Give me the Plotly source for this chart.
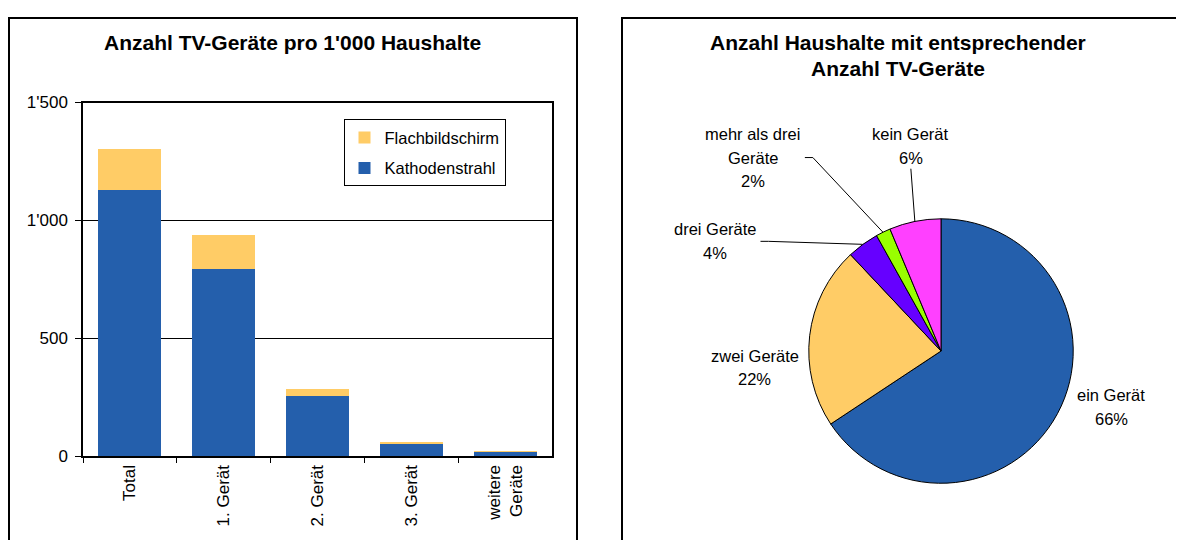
import math
import plotly.graph_objects as go

# ---------------- data ----------------
categories = ["Total", "1. Gerät", "2. Gerät", "3. Gerät", "weitere<br>Geräte"]
kathodenstrahl = [1130, 796, 257, 53, 21]
flachbildschirm = [172, 144, 30, 10, 1]
y_ticks = [0, 500, 1000, 1500]

pie_labels = ["ein Gerät", "zwei Geräte", "drei Geräte", "mehr als drei Geräte", "kein Gerät"]
pie_label_lines = [["ein Gerät"], ["zwei Geräte"], ["drei Geräte"], ["mehr als drei", "Geräte"], ["kein Gerät"]]
pie_values = [65.7, 22.3, 3.9, 1.8, 6.3]

# ---------------- style / layout ----------------
PAGE_W, PAGE_H = 1184, 548
BODY = 8  # default page margin around the figure
W, H = PAGE_W - 2 * BODY, PAGE_H - 2 * BODY
TOP = 16          # observed top of the drawn figure on the page
HD = H - 16       # observed drawn height of the figure
FONT = "Liberation Sans, Arial, sans-serif"
BLUE = "#245FAC"
YELLOW = "#FFCC66"
pie_colors = [BLUE, YELLOW, "#6600FF", "#99FF00", "#FF40FF"]


def X(px):
    return (px - BODY) / W


def Y(py):
    return 1 - (py - TOP) / HD


# plot area of the bar chart (page pixels)
bx0, bx1, by0, by1 = 83, 552, 102, 458
# pie centre / radius (page pixels)
cx, cy, R = 941, 352, 133

# label offsets (pixels) relative to slice edge point, and leader-line start relative to label centre
label_offsets = [(53, -6.5), (-54, 32), (-147, -3), (-130, -75), (-4, -76)]
leader_start = [None, None, (45, 0), (52, 0), (0, 23)]
LINE_SP = 24

fig = go.Figure()

fig.add_trace(go.Bar(
    x=categories, y=kathodenstrahl, name="Kathodenstrahl",
    marker=dict(color=BLUE, line=dict(width=0)),
    legendgroup="k", legendrank=2, xaxis="x", yaxis="y",
))
fig.add_trace(go.Bar(
    x=categories, y=flachbildschirm, name="Flachbildschirm",
    marker=dict(color=YELLOW, line=dict(width=0)),
    legendgroup="f", legendrank=1, xaxis="x", yaxis="y",
))

fig.add_trace(go.Pie(
    labels=pie_labels, values=pie_values, sort=False, direction="clockwise",
    rotation=0, textinfo="none", showlegend=False,
    marker=dict(colors=pie_colors, line=dict(color="black", width=1)),
    domain=dict(x=[X(cx - R), X(cx + R)], y=[Y(cy + R), Y(cy - R)]),
    hoverinfo="label+percent",
))

annotations = []
shapes = []

# titles
annotations.append(dict(text="<b>Anzahl TV-Geräte pro 1'000 Haushalte</b>", x=X(292.5), y=Y(42),
                        xref="paper", yref="paper", showarrow=False,
                        xanchor="center", yanchor="middle", font=dict(size=21, color="black", family=FONT)))
for k, t in enumerate(["Anzahl Haushalte mit entsprechender", "Anzahl TV-Geräte"]):
    annotations.append(dict(text="<b>%s</b>" % t, x=X(898), y=Y(42 + 26 * k),
                            xref="paper", yref="paper", showarrow=False,
                            xanchor="center", yanchor="middle",
                            font=dict(size=21, color="black", family=FONT)))

# pie labels computed from the data
total = sum(pie_values)
cum = 0.0
for i, v in enumerate(pie_values):
    mid = (cum + v / 2) / total
    cum += v
    th = 2 * math.pi * mid
    ex = cx + R * math.sin(th)
    ey = cy - R * math.cos(th)
    dx, dy = label_offsets[i]
    lx, ly = ex + dx, ey + dy
    lines = pie_label_lines[i] + ["%d%%" % round(100 * v / total)]
    n = len(lines)
    for k, t in enumerate(lines):
        annotations.append(dict(text=t, x=X(lx), y=Y(ly + (k - (n - 1) / 2) * LINE_SP),
                                xref="paper", yref="paper", showarrow=False,
                                xanchor="center", yanchor="middle",
                                font=dict(size=16.5, color="black", family=FONT)))
    if leader_start[i] is not None:
        sx, sy = lx + leader_start[i][0], ly + leader_start[i][1]
        if leader_start[i][1] == 0:
            path = "M %f %f L %f %f L %f %f" % (X(sx), Y(sy), X(sx + 8), Y(sy), X(ex), Y(ey))
        else:
            path = "M %f %f L %f %f" % (X(sx), Y(sy), X(ex), Y(ey))
        shapes.append(dict(type="path", path=path, xref="paper", yref="paper",
                           line=dict(color="black", width=1)))

# panel frames
shapes.append(dict(type="rect", xref="paper", yref="paper", x0=X(9), x1=X(577), y0=-0.05, y1=Y(17),
                   line=dict(color="black", width=2)))
shapes.append(dict(type="rect", xref="paper", yref="paper", x0=X(622), x1=1.05, y0=-0.05, y1=Y(17),
                   line=dict(color="black", width=2)))

fig.update_layout(
    width=W, height=H,
    margin=dict(l=0, r=0, t=0, b=0),
    paper_bgcolor="white", plot_bgcolor="white",
    font=dict(family=FONT, color="black", size=17),
    separators=".'",
    barmode="stack", bargap=0.33,
    xaxis=dict(domain=[X(bx0), X(bx1)], anchor="y", showgrid=False,
               ticks="outside", tickson="boundaries", ticklen=5, tickcolor="black",
               tickangle=-90, tickfont=dict(size=17, color="black"),
               showline=True, linecolor="black", linewidth=1.5, mirror=True,
               fixedrange=True),
    yaxis=dict(domain=[Y(by1), Y(by0)], anchor="x", range=[0, 1500],
               tickvals=y_ticks, tickformat=",", ticks="outside", ticklen=6, tickcolor="black",
               tickfont=dict(size=17, color="black"), ticklabelstandoff=4,
               showgrid=True, gridcolor="black", gridwidth=1,
               showline=True, linecolor="black", linewidth=1.5, mirror=True,
               zeroline=False, fixedrange=True),
    legend=dict(x=X(424.5), y=Y(152.5), xanchor="center", yanchor="middle",
                bgcolor="white", bordercolor="black", borderwidth=1,
                font=dict(size=16.5, color="black", family=FONT),
                traceorder="grouped", tracegroupgap=6),
    annotations=annotations,
    shapes=shapes,
)

fig.write_html("out.html")
